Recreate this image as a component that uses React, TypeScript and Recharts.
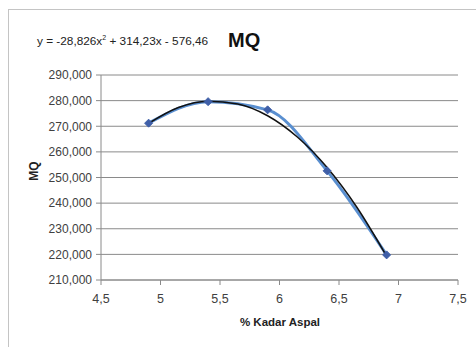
import React from 'react';
import { ComposedChart, Line, XAxis, YAxis, CartesianGrid } from 'recharts';

// % kadar aspal vs MQ (thousands)
const kadarAspal = [4.9, 5.4, 5.9, 6.4, 6.9];
const mqValues = [271.2, 279.6, 276.4, 252.6, 219.8];

// trendline
const trendX = [4.9, 5.15, 5.4, 5.65, 5.9, 6.15, 6.4, 6.65, 6.9];
const trendY = [271.1, 277.3, 279.8, 278.7, 274.1, 265.8, 253.9, 238.4, 219.3];

const xTicks = [4.5, 5, 5.5, 6, 6.5, 7, 7.5];
const yTicks = [210, 220, 230, 240, 250, 260, 270, 280, 290];

const dataPoints = kadarAspal.map((x, i) => ({ x, mq: mqValues[i] }));
const trendPoints = trendX.map((x, i) => ({ x, trend: trendY[i] }));

const FONT = '"Liberation Sans", Arial, sans-serif';

const Diamond = (props: any) => {
  const { cx, cy } = props;
  if (cx == null || cy == null) return null;
  const s = 4;
  return (
    <path
      d={`M${cx},${cy - s} L${cx + s},${cy} L${cx},${cy + s} L${cx - s},${cy} Z`}
      fill="#3f5fa8"
      stroke="#3f5fa8"
    />
  );
};

export default function App() {
  return (
    <div
      style={{
        position: 'absolute',
        left: 0,
        top: 0,
        width: 476,
        height: 347,
        background: '#fff',
        fontFamily: FONT,
        overflow: 'hidden'
      }}
    >
      <div
        style={{
          position: 'absolute',
          left: 8,
          top: 9,
          width: 480,
          height: 350,
          border: '1px solid #c4c4c4'
        }}
      />
      <ComposedChart
        width={476}
        height={347}
        margin={{ top: 75, right: 18, left: 0, bottom: 0 }}
        style={{ position: 'absolute', left: 0, top: 0 }}
      >
        <CartesianGrid vertical={false} stroke="#8a8a8a" strokeWidth={1} />
        <XAxis
          dataKey="x"
          type="number"
          domain={[4.5, 7.5]}
          ticks={xTicks}
          allowDuplicatedCategory={false}
          height={67}
          tickSize={5}
          tickMargin={9}
          stroke="#8a8a8a"
          tick={{ fill: '#404040', fontSize: 12.5, fontFamily: FONT }}
          tickFormatter={(v: number) => String(v).replace('.', ',')}
        />
        <YAxis
          type="number"
          domain={[210, 290]}
          ticks={yTicks}
          width={101}
          tickSize={5}
          tickMargin={4}
          stroke="#8a8a8a"
          tick={{ fill: '#404040', fontSize: 12, fontFamily: FONT }}
          tickFormatter={(v: number) => `${v},000`}
        />
        <Line
          data={dataPoints}
          dataKey="mq"
          type="monotone"
          stroke="#5a8fd0"
          strokeWidth={3}
          dot={<Diamond />}
          isAnimationActive={false}
        />
        <Line
          data={trendPoints}
          dataKey="trend"
          type="monotone"
          stroke="#111"
          strokeWidth={1.5}
          dot={false}
          isAnimationActive={false}
        />
      </ComposedChart>
      <div
        style={{
          position: 'absolute',
          left: 37,
          top: 34,
          fontSize: 11.8,
          color: '#222',
          whiteSpace: 'nowrap'
        }}
      >
        y = -28,826x<sup style={{ fontSize: 7 }}>2</sup> + 314,23x - 576,46
      </div>
      <div
        style={{
          position: 'absolute',
          left: 228,
          top: 29,
          fontSize: 20,
          fontWeight: 'bold',
          color: '#111'
        }}
      >
        MQ
      </div>
      <div
        style={{
          position: 'absolute',
          left: 14,
          top: 164,
          width: 40,
          textAlign: 'center',
          fontSize: 12,
          fontWeight: 'bold',
          color: '#222',
          transform: 'rotate(-90deg)'
        }}
      >
        MQ
      </div>
      <div
        style={{
          position: 'absolute',
          left: 200,
          top: 316,
          width: 160,
          textAlign: 'center',
          fontSize: 11.5,
          fontWeight: 'bold',
          color: '#222'
        }}
      >
        % Kadar Aspal
      </div>
    </div>
  );
}
